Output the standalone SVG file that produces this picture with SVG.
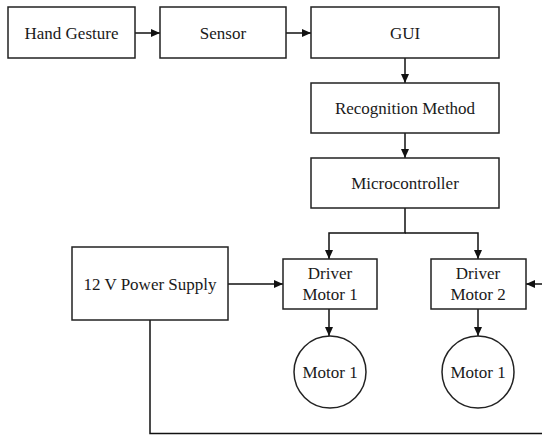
<svg xmlns="http://www.w3.org/2000/svg" width="542" height="435" viewBox="0 0 542 435">
<style>
.box{fill:#fff;stroke:#222;stroke-width:1.5}
.t{font-family:"Liberation Serif","Times New Roman",serif;font-size:17px;fill:#1a1a1a;text-anchor:middle}
.c{fill:none;stroke:#111;stroke-width:1.5}
</style>
<defs>
<marker id="ah" markerWidth="10" markerHeight="10" refX="9" refY="5" orient="auto" markerUnits="userSpaceOnUse">
<path d="M0,1 L9,5 L0,9 Z" fill="#111"/>
</marker>
</defs>
<rect width="542" height="435" fill="#fff"/>
<g id="connectors">
<path class="c" d="M135,33 H160" marker-end="url(#ah)"/>
<path class="c" d="M286,33 H311" marker-end="url(#ah)"/>
<path class="c" d="M405,58 V83" marker-end="url(#ah)"/>
<path class="c" d="M405,133 V158" marker-end="url(#ah)"/>
<path class="c" d="M405,208 V233 H329 V259" marker-end="url(#ah)"/>
<path class="c" d="M405,233 H478 V259" marker-end="url(#ah)"/>
<path class="c" d="M228,284 H283" marker-end="url(#ah)"/>
<path class="c" d="M542,284 H526" marker-end="url(#ah)"/>
<path class="c" d="M329,309 V336" marker-end="url(#ah)"/>
<path class="c" d="M478,309 V336" marker-end="url(#ah)"/>
<path class="c" d="M150,320 V433.5 H542"/>
</g>
<g id="hand"><rect class="box" x="8" y="7" width="127" height="51"/><text class="t" x="71.5" y="39">Hand Gesture</text></g>
<g id="sensor"><rect class="box" x="160" y="7" width="126" height="51"/><text class="t" x="223" y="39">Sensor</text></g>
<g id="gui"><rect class="box" x="311" y="7" width="188" height="51"/><text class="t" x="405" y="39">GUI</text></g>
<g id="recog"><rect class="box" x="311" y="83" width="188" height="50"/><text class="t" x="405" y="114">Recognition Method</text></g>
<g id="micro"><rect class="box" x="311" y="158" width="188" height="50"/><text class="t" x="405" y="189">Microcontroller</text></g>
<g id="power"><rect class="box" x="72" y="247" width="156" height="73"/><text class="t" x="150" y="290">12 V Power Supply</text></g>
<g id="driver1"><rect class="box" x="283" y="259" width="94" height="50"/><text class="t" x="330" y="279">Driver</text><text class="t" x="330" y="300">Motor 1</text></g>
<g id="driver2"><rect class="box" x="431" y="259" width="95" height="50"/><text class="t" x="478" y="279">Driver</text><text class="t" x="478" y="300">Motor 2</text></g>
<g id="motor1"><circle class="box" cx="330" cy="372" r="36"/><text class="t" x="330" y="378">Motor 1</text></g>
<g id="motor2"><circle class="box" cx="478" cy="372" r="36"/><text class="t" x="478" y="378">Motor 1</text></g>
</svg>
